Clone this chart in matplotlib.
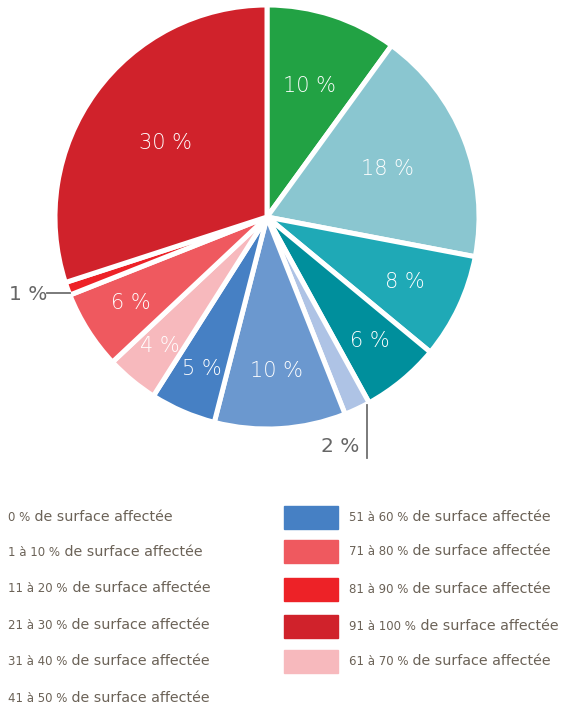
import numpy as np
import matplotlib.pyplot as plt

# parts du camembert, dans le sens horaire depuis midi
values = [10, 18, 8, 6, 2, 10, 5, 4, 6, 1, 30]
colors = ['#22a244', '#8ac6d0', '#1fa9b6', '#008f9c', '#aec3e5', '#6b98cf',
          '#4680c4', '#f7b9bd', '#ef595f', '#ed2227', '#d0222b']
labels = [f'{v} %' for v in values]

# légende : tranche de surface + texte commun
legend_left = ['0 %', '1 à 10 %', '11 à 20 %', '21 à 30 %', '31 à 40 %', '41 à 50 %']
legend_right = ['51 à 60 %', '71 à 80 %', '81 à 90 %', '91 à 100 %', '61 à 70 %']
legend_right_colors = ['#4680c4', '#ef595f', '#ed2227', '#d0222b', '#f7b9bd']
legend_suffix = ' de surface affectée'

text_col = '#6b6257'
font = ['DejaVu Sans']

fig = plt.figure(figsize=(5.63, 7.08), dpi=100)
W, H = 563, 708
renderer = fig.canvas.get_renderer()

# axe du camembert : centre (267, 217) px, rayon 212 px
cx, cy, r = 267, 217, 212
ax = fig.add_axes([(cx - r) / W, (H - cy - r) / H, 2 * r / W, 2 * r / H])
wedges, _ = ax.pie(values, colors=colors, startangle=90, counterclock=False,
                   radius=1, wedgeprops=dict(edgecolor='white', linewidth=3.6))
ax.set_xlim(-1, 1)
ax.set_ylim(-1, 1)
ax.set_aspect('equal')
ax.axis('off')

# étiquettes internes
label_dist = [0.65, 0.61, 0.72, 0.76, None, 0.73, 0.78, 0.79, 0.76, None, 0.59]
for w, lab, d in zip(wedges, labels, label_dist):
    if d is None:
        continue
    ang = np.deg2rad((w.theta1 + w.theta2) / 2)
    ax.text(d * np.cos(ang), d * np.sin(ang), lab, ha='center', va='center',
            color='white', fontsize=15, family=font, fontweight='light')

# étiquettes externes avec traits
def px(x, y):
    return (x - cx) / r, (cy - y) / r

ax.plot(*zip(px(47, 293), px(70, 293)), color='#707070', lw=1.3, clip_on=False)
ax.text(*px(28, 295), labels[9], ha='center', va='center', color='#666666',
        fontsize=14.5, family=font, clip_on=False)
ax.plot(*zip(px(367, 405), px(367, 458)), color='#707070', lw=1.3, clip_on=False)
ax.text(*px(340, 447), labels[4], ha='center', va='center', color='#666666',
        fontsize=14.5, family=font, clip_on=False)


def legend_text(x, y, prefix):
    t = fig.text(x / W, 1 - y / H, prefix, ha='left', va='baseline',
                 color=text_col, fontsize=8.5, family=font)
    x1 = t.get_window_extent(renderer).x1
    fig.text(x1 / W, 1 - y / H, legend_suffix, ha='left', va='baseline',
             color=text_col, fontsize=10.3, family=font)


# légende
left_y = [521, 556, 592, 629, 665, 702]
for t, y in zip(legend_left, left_y):
    legend_text(8, y, t)

right_y = [521, 555, 593, 630, 665]
for t, c, y in zip(legend_right, legend_right_colors, right_y):
    fig.patches.append(plt.Rectangle((284 / W, 1 - (y + 7.5) / H), 54 / W, 23 / H,
                                     transform=fig.transFigure, color=c))
    legend_text(349, y, t)

fig.savefig('out.png', dpi=100)
